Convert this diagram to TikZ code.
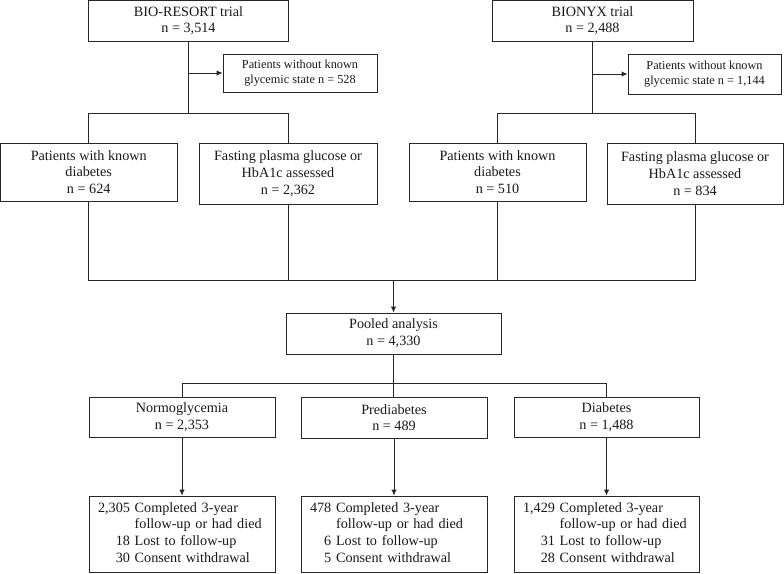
\documentclass[tikz,border=0pt]{standalone}
\usepackage{fontspec}
\setmainfont{Liberation Serif}
\usetikzlibrary{arrows.meta}
\begin{document}
\begin{tikzpicture}[x=1pt,y=-1pt,
  box/.style={draw=black!85, line width=0.9pt, rectangle, align=center, inner sep=2pt,
    font=\fontsize{14.2}{16.7}\selectfont, text=black!90},
  sidebox/.style={box, font=\fontsize{12.3}{15}\selectfont},
  outbox/.style={box, text width=168pt, align=left, inner xsep=9pt},
  conn/.style={draw=black!85, line width=0.9pt},
  arr/.style={conn, -{Latex[length=6pt,width=5.5pt]}}]
\useasboundingbox (0,0) rectangle (784,573);
% top trials
\node[box, minimum width=200pt, minimum height=40.5pt] (bio) at (188.5,20.75) {BIO-RESORT trial\\n = 3,514};
\node[box, minimum width=201pt, minimum height=40.5pt] (bionyx) at (592.5,20.75) {BIONYX trial\\n = 2,488};
% excluded
\node[sidebox, minimum width=154pt, minimum height=38pt] (ex1) at (300,73) {Patients without known\\glycemic state n = 528};
\node[sidebox, minimum width=153pt, minimum height=40pt] (ex2) at (704.5,74) {Patients without known\\glycemic state n = 1,144};
% second level
\node[box, minimum width=176.5pt, minimum height=58pt] (kd1) at (88.75,172) {Patients with known\\diabetes\\n = 624};
\node[box, minimum width=178pt, minimum height=61pt] (fp1) at (288,173.5) {Fasting plasma glucose or\\HbA1c assessed\\n = 2,362};
\node[box, minimum width=177pt, minimum height=58pt] (kd2) at (497.5,172) {Patients with known\\diabetes\\n = 510};
\node[box, minimum width=176pt, minimum height=61pt] (fp2) at (695,173.5) {Fasting plasma glucose or\\HbA1c assessed\\n = 834};
% pooled
\node[box, minimum width=215pt, minimum height=41pt] (pooled) at (393.5,333.5) {Pooled analysis\\n = 4,330};
% groups
\node[box, minimum width=186pt, minimum height=40pt] (normo) at (182,417) {Normoglycemia\\n = 2,353};
\node[box, minimum width=186pt, minimum height=41pt] (pre) at (394,417.5) {Prediabetes\\n = 489};
\node[box, minimum width=185pt, minimum height=40pt] (diab) at (606.5,417) {Diabetes\\n = 1,488};
% outcomes
\node[outbox, minimum width=186pt, minimum height=76pt] (c1) at (182,534) {\begin{tabular}{@{}r@{\ }l@{}}2,305 & Completed 3-year\\ & follow-up or had died\\18 & Lost to follow-up\\30 & Consent withdrawal\end{tabular}};
\node[outbox, minimum width=186pt, minimum height=76pt] (c2) at (394,534) {\begin{tabular}{@{}r@{\ }l@{}}478 & Completed 3-year\\ & follow-up or had died\\6 & Lost to follow-up\\5 & Consent withdrawal\end{tabular}};
\node[outbox, minimum width=185pt, text width=167pt, minimum height=76pt] (c3) at (606.5,534) {\begin{tabular}{@{}r@{\ }l@{}}1,429 & Completed 3-year\\ & follow-up or had died\\31 & Lost to follow-up\\28 & Consent withdrawal\end{tabular}};
% helper levels
\coordinate (ya) at (0,113);
\coordinate (yb) at (0,280);
\coordinate (yc) at (0,383);
% left trial
\draw[conn] (bio.south) -- (bio.south |- ya);
\draw[arr] (bio.south |- ex1.west) -- (ex1.west);
\draw[conn] (kd1.north) -- (kd1.north |- ya) -- (fp1.north |- ya) -- (fp1.north);
% right trial
\draw[conn] (bionyx.south) -- (bionyx.south |- ya);
\draw[arr] (bionyx.south |- ex2.west) -- (ex2.west);
\draw[conn] (kd2.north) -- (kd2.north |- ya) -- (fp2.north |- ya) -- (fp2.north);
% merge
\draw[conn] (kd1.south) -- (kd1.south |- yb) -- (fp2.south |- yb) -- (fp2.south);
\draw[conn] (fp1.south) -- (fp1.south |- yb);
\draw[conn] (kd2.south) -- (kd2.south |- yb);
\draw[arr] (pooled.north |- yb) -- (pooled.north);
% split
\draw[conn] (pooled.south) -- (pooled.south |- pre.north);
\draw[conn] (normo.north) -- (normo.north |- yc) -- (diab.north |- yc) -- (diab.north);
% outcomes
\draw[arr] (normo.south) -- (c1.north);
\draw[arr] (pre.south) -- (c2.north);
\draw[arr] (diab.south) -- (c3.north);
\end{tikzpicture}
\end{document}
